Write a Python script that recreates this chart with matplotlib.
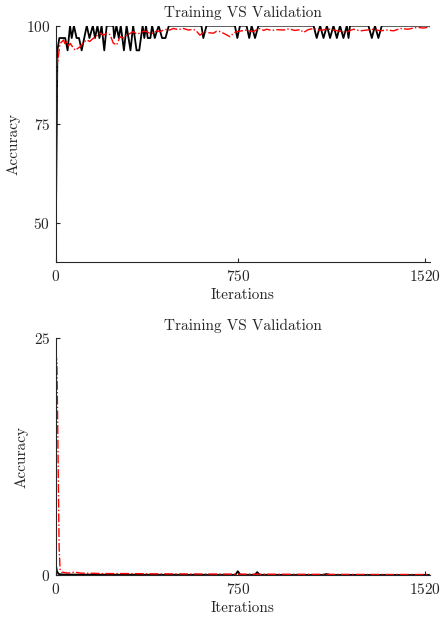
import numpy as np
import matplotlib
matplotlib.use("Agg")
import matplotlib.pyplot as plt

# === Data ===
# training accuracy (black), breakpoints
train_acc_it = [0, 7, 15, 39, 49, 59, 66, 75, 86, 96, 107, 128, 139, 153, 162, 172, 180, 189,
                200, 210, 237, 241, 250, 260, 268, 281, 292, 308, 319, 333, 344, 358, 365, 372,
                379, 390, 397, 408, 424, 438, 452, 466, 600, 608, 621, 738, 748, 759, 786, 797,
                807, 821, 835, 1062, 1075, 1089, 1103, 1117, 1130, 1144, 1158, 1171, 1185, 1199,
                1206, 1212, 1288, 1302, 1315, 1329, 1343, 1542]
train_acc = [43.75, 93.75, 96.875, 96.875, 93.75, 100, 96.875, 100, 96.875, 96.875, 93.75, 100,
             96.875, 100, 96.875, 100, 96.875, 100, 93.75, 100, 100, 96.875, 100, 96.875, 100,
             93.75, 100, 93.75, 100, 93.75, 93.75, 100, 96.875, 100, 96.875, 96.875, 100, 96.875,
             100, 96.875, 96.875, 100, 100, 96.875, 100, 100, 96.875, 100, 100, 96.875, 100,
             96.875, 100, 100, 96.875, 100, 96.875, 100, 96.875, 100, 96.875, 100, 96.875, 100,
             96.875, 100, 100, 96.875, 100, 96.875, 100, 100]

# validation accuracy (red)
val_acc_it = [0, 5, 9, 12, 18, 25, 32, 39, 46, 53, 60, 70, 80, 90, 101, 115, 128, 140, 155, 168,
              182, 196, 210, 224, 237, 251, 265, 278, 292, 306, 320, 333, 347, 361, 375, 389,
              402, 416, 430, 444, 457, 470, 484, 505, 526, 546, 567, 580, 594, 605, 615, 632,
              649, 663, 677, 697, 718, 731, 745, 766, 787, 800, 814, 828, 842, 856, 869, 890,
              910, 938, 960, 985, 1007, 1021, 1040, 1062, 1080, 1100, 1120, 1144, 1170, 1199,
              1213, 1227, 1255, 1282, 1310, 1337, 1365, 1392, 1405, 1419, 1450, 1488, 1515, 1543]
val_acc = [45.0, 91.7, 90.9, 92.8, 95.5, 95.9, 96.4, 95.3, 95.9, 94.9, 95.5, 94.6, 93.8, 94.2,
           94.7, 95.8, 96.4, 96.0, 96.8, 97.4, 98.1, 97.6, 98.1, 97.7, 95.6, 95.1, 97.2, 96.9,
           97.6, 98.0, 98.5, 97.9, 98.1, 98.6, 98.5, 98.0, 98.1, 98.7, 98.5, 98.9, 99.1, 98.9,
           99.3, 99.0, 99.3, 98.9, 99.1, 98.6, 97.6, 98.1, 98.5, 98.2, 98.1, 98.6, 98.5, 97.9,
           97.2, 98.0, 98.5, 98.7, 98.9, 98.6, 98.5, 99.0, 99.3, 98.8, 99.1, 98.8, 99.0, 98.9,
           99.2, 98.8, 99.0, 98.3, 99.0, 99.3, 98.9, 98.9, 99.2, 98.9, 98.6, 98.3, 98.8, 99.1,
           98.7, 98.9, 99.1, 98.7, 98.9, 98.7, 99.0, 99.3, 99.1, 99.6, 99.4, 99.7]

# training loss (black)
train_loss_it = [0, 5, 12, 30, 100, 300, 500, 740, 750, 760, 820, 830, 840, 1100, 1115, 1130, 1542]
train_loss = [1.2, 0.4, 0.1, 0.05, 0.04, 0.03, 0.02, 0.02, 0.4, 0.02, 0.02, 0.3, 0.02, 0.01, 0.1, 0.01, 0.01]

# validation loss (red)
val_loss_it = [0, 5, 10, 14, 18, 25, 50, 80, 100, 200, 300, 400, 600, 800, 1000, 1200, 1400, 1543]
val_loss = [23.6, 22.5, 12.0, 3.0, 0.6, 0.3, 0.2, 0.3, 0.2, 0.15, 0.15, 0.12, 0.1, 0.08, 0.07, 0.06, 0.05, 0.05]

plt.rcParams['font.family'] = ['cmr10', 'DejaVu Serif']
plt.rcParams['axes.formatter.use_mathtext'] = True
plt.rcParams['font.size'] = 11

fig = plt.figure(figsize=(4.41, 6.18), dpi=100)
ax1 = fig.add_axes([0.1263, 0.5756, 0.849, 0.3828])
ax2 = fig.add_axes([0.1263, 0.0696, 0.849, 0.383])

def style(ax, ylim, yticks):
    ax.set_xlim(0, 1542)
    ax.set_ylim(*ylim)
    ax.set_xticks([0, 750, 1520])
    ax.set_yticks(yticks)
    for s in ['top', 'right']:
        ax.spines[s].set_visible(False)
    for s in ['left', 'bottom']:
        ax.spines[s].set_color('#262626')
        ax.spines[s].set_linewidth(0.8)
    ax.tick_params(direction='in', length=3, width=0.8, colors='#262626', labelsize=11)
    ax.tick_params(axis='x', pad=5)
    ax.tick_params(axis='y', pad=4)
    ax.set_xlabel('Iterations', color='#262626', labelpad=3)
    ax.set_ylabel('Accuracy', color='#262626')
    ax.set_title('Training VS Validation', fontsize=11, color='#262626', pad=6)

ax1.plot(train_acc_it, train_acc, color='black', lw=1.3)
ax1.plot(val_acc_it, val_acc, color='red', lw=1.0, ls='-.')
style(ax1, (40, 100), [50, 75, 100])

ax2.plot(train_loss_it, train_loss, color='black', lw=1.3)
ax2.plot(val_loss_it, val_loss, color='red', lw=1.0, ls='-.')
style(ax2, (0, 25), [0, 25])

fig.savefig('out.png', dpi=100)
